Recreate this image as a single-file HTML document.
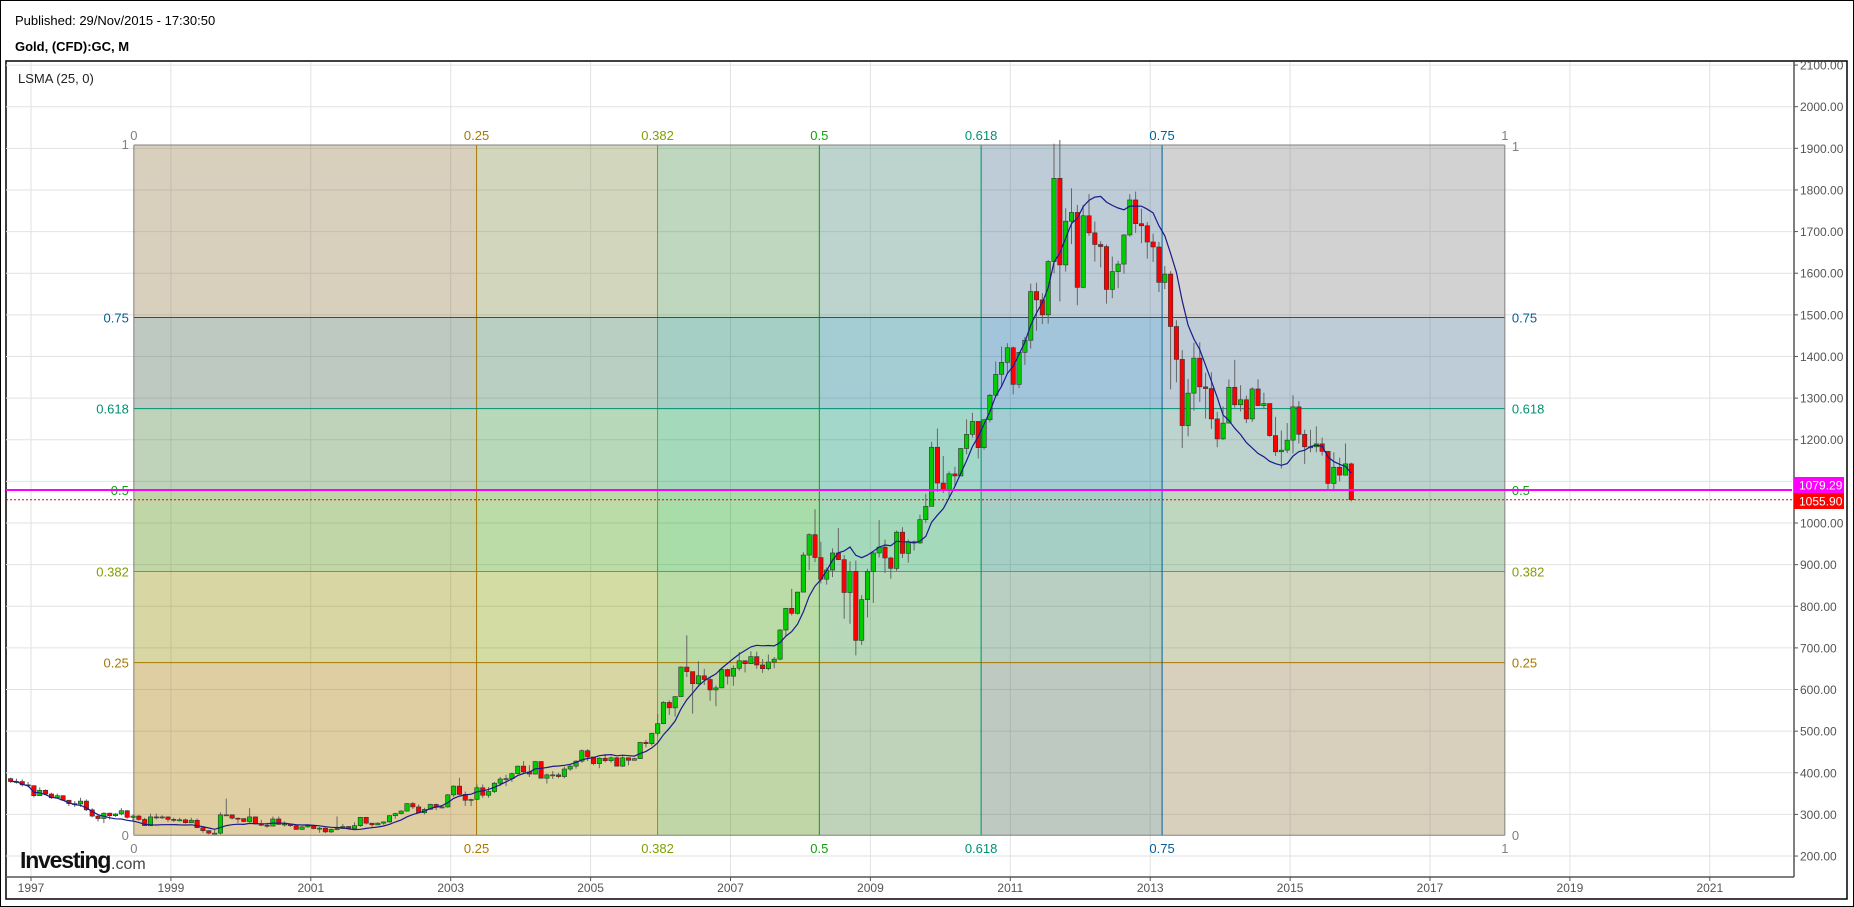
<!DOCTYPE html>
<html><head><meta charset="utf-8">
<style>
html,body{margin:0;padding:0;background:#fff;}
svg{display:block;font-family:"Liberation Sans",sans-serif;}
</style></head>
<body>
<svg id="chart" width="1854" height="907" viewBox="0 0 1854 907" xmlns="http://www.w3.org/2000/svg">
<rect x="0.5" y="0.5" width="1853" height="906" fill="#fff" stroke="#000"/>
<text x="15" y="25" font-size="13" fill="#000">Published: 29/Nov/2015 - 17:30:50</text>
<text x="15" y="51" font-size="13" font-weight="bold" fill="#000">Gold, (CFD):GC, M</text>
<rect x="6" y="61" width="1841" height="838" fill="none" stroke="#000" stroke-width="1.5"/>
<g id="grid"></g>
<g id="fib"></g>
<g id="candles"></g>
<g id="lsma"></g>
<g id="axes"></g>
<text x="18" y="83" font-size="13" fill="#222">LSMA (25, 0)</text>
<g>
<text x="20" y="868" font-size="23" font-weight="bold" fill="#111" letter-spacing="-1.2">Investing</text>
<text x="111" y="869" font-size="16" fill="#444">.com</text>
</g>
</svg>
<script>
const startYear = 1996, startMonth = 8; // Sep 1996
const closes = [379,379,371,369,
345,358,349,340,345,334,326,325,332,311,296,290,
303,297,301,309,293,296,288,273,294,292,294,288,
287,287,280,286,268,261,255,255,299,299,291,290,
283,294,277,274,272,289,276,277,273,264,270,273,
266,267,258,264,266,271,266,273,293,279,275,279,
282,297,302,308,326,318,304,312,324,317,318,347,
368,348,334,336,364,346,355,375,385,386,398,416,
402,397,427,387,395,395,391,409,416,428,453,438,
422,435,429,436,416,436,430,434,473,470,495,518,
569,556,583,654,643,614,633,624,599,604,648,632,
651,669,662,679,659,650,666,673,743,795,783,834,
923,972,917,865,887,928,912,833,884,718,816,884,
928,942,916,891,978,927,955,952,1008,1040,1182,1096,
1081,1118,1113,1179,1213,1244,1181,1248,1307,1357,1386,1421,
1333,1410,1439,1556,1536,1500,1628,1828,1620,1725,1746,1566,
1738,1697,1669,1664,1561,1604,1622,1692,1776,1719,1714,1675,
1663,1578,1598,1472,1393,1234,1312,1396,1327,1323,1250,1202,
1240,1326,1284,1296,1250,1322,1282,1287,1210,1171,1175,1199,
1279,1213,1183,1183,1190,1172,1095,1134,1115,1142,1056];
const highs = [388,386,384,378,
370,365,360,352,350,346,335,332,340,336,315,301,
305,304,303,315,310,300,299,292,302,302,298,295,
292,292,290,292,290,272,262,263,305,338,300,292,
290,315,295,287,280,295,295,283,278,275,272,275,
275,270,269,266,295,277,272,281,294,294,279,281,
283,298,304,310,327,330,324,316,326,326,322,349,
370,388,355,338,372,372,366,378,390,395,400,417,
428,418,428,427,398,404,400,415,421,430,456,457,
428,437,445,439,438,443,437,436,474,479,496,541,
572,574,584,655,730,632,668,650,630,610,652,650,
658,690,670,692,691,673,684,678,745,796,842,835,
930,975,1033,955,893,939,988,923,908,910,827,890,
930,1007,960,919,982,990,960,958,1020,1070,1195,1227,
1161,1124,1135,1180,1249,1265,1242,1250,1310,1388,1424,1432,
1424,1410,1447,1575,1577,1552,1632,1911,1920,1756,1804,1764,
1764,1790,1724,1677,1669,1640,1630,1693,1790,1796,1755,1723,
1695,1675,1617,1605,1487,1415,1346,1433,1434,1361,1362,1267,
1280,1345,1392,1331,1306,1326,1345,1313,1287,1255,1222,1240,
1307,1293,1224,1224,1232,1205,1170,1170,1157,1191,1145];
const lows = [376,374,367,365,
341,345,346,337,338,333,320,318,318,308,293,283,
279,288,294,298,290,285,285,272,272,288,289,282,
282,283,278,280,268,256,252,253,252,296,288,280,
281,281,276,272,268,272,275,271,270,263,263,268,
264,256,255,255,262,265,265,264,270,276,270,274,
275,280,290,300,307,313,303,300,312,310,314,316,
342,346,320,320,336,340,340,351,368,368,378,396,
398,390,396,386,374,385,387,387,405,410,424,428,
418,411,425,424,415,414,418,430,434,461,465,489,
517,539,535,583,630,542,611,611,573,560,612,612,
609,645,641,663,650,640,646,651,670,728,778,780,
836,887,906,855,852,870,911,770,758,682,707,773,
808,917,880,866,885,916,905,934,950,1000,1043,1075,
1072,1059,1087,1114,1165,1205,1155,1176,1242,1315,1330,1358,
1309,1324,1380,1419,1462,1478,1479,1600,1532,1604,1670,1523,
1564,1690,1628,1614,1527,1540,1564,1599,1688,1697,1672,1635,
1627,1555,1562,1321,1338,1180,1208,1270,1291,1251,1226,1182,
1200,1241,1277,1268,1240,1243,1281,1274,1207,1161,1131,1168,
1167,1191,1142,1170,1170,1162,1077,1078,1100,1114,1052];
const firstOpen = 386;
const priceTicks = [200,300,400,500,600,700,800,900,1000,1100,1200,1300,1400,1500,1600,1700,1800,1900,2000,2100];
const yearTicks = [1997,1999,2001,2003,2005,2007,2009,2011,2013,2015,2017,2019,2021];
const fibLevels = [0,0.25,0.382,0.5,0.618,0.75,1];
const fibLabels = ["0","0.25","0.382","0.5","0.618","0.75","1"];
const fibColors = ["#808080","#a87800","#80a000","#10a010","#009070","#005f9a","#808080"];
const fibStart = 1998.47, fibEnd = 2018.07, fibLow = 250, fibHigh = 1908;
const markerPrice = 1079.29, lastPrice = 1055.90;

const NS = "http://www.w3.org/2000/svg";
const yP = p => 523 - (p - 1000) * 0.4163;
const xT = t => 31 + (t - 1997) * 69.95;
const xM = i => xT(startYear + (startMonth + i + 0.5) / 12);
function mk(tag, attrs, parent, text){const e=document.createElementNS(NS,tag);for(const k in attrs)e.setAttribute(k,attrs[k]);if(text!==undefined)e.textContent=text;parent.appendChild(e);return e;}
const L=6,R=1792,T=62,B=877;
const grid=document.getElementById('grid');
priceTicks.forEach(p=>{const l=mk('line',{x1:L,x2:R,y1:yP(p),y2:yP(p),stroke:'#e2e2e2'},grid);

});
yearTicks.forEach(y=>{const l=mk('line',{x1:xT(y),x2:xT(y),y1:T,y2:B,stroke:'#e2e2e2'},grid);

});
const fib=document.getElementById('fib');
const fx=f=>xT(fibStart)+(xT(fibEnd)-xT(fibStart))*f;
const fy=f=>yP(fibLow)+(yP(fibHigh)-yP(fibLow))*f;
const X0=fx(0),X1=fx(1),Y0=fy(0),Y1=fy(1);
for(let i=1;i<fibLevels.length;i++){
 const r=mk('rect',{x:fx(fibLevels[i-1]),y:Y1,width:fx(fibLevels[i])-fx(fibLevels[i-1]),height:Y0-Y1,fill:fibColors[i],'fill-opacity':0.2},fib);
 
 
 const h=mk('rect',{x:X0,y:fy(fibLevels[i]),width:X1-X0,height:fy(fibLevels[i-1])-fy(fibLevels[i]),fill:fibColors[i],'fill-opacity':0.2},fib);
 
 
}
fibLevels.forEach((f,i)=>{
 const c=fibColors[i];
 const v=mk('line',{x1:fx(f),x2:fx(f),y1:Y1,y2:Y0,stroke:c,'stroke-width':1},fib);
 
 
 const h=mk('line',{x1:X0,x2:X1,y1:fy(f),y2:fy(f),stroke:c,'stroke-width':1},fib);
 
 
 const t1=mk('text',{x:fx(f),y:140,'font-size':13,fill:c,'text-anchor':'middle'},fib,fibLabels[i]);
 
 
 const t2=mk('text',{x:fx(f),y:853,'font-size':13,fill:c,'text-anchor':'middle'},fib,fibLabels[i]);
 
 
 const t3=mk('text',{x:X0-5,y:fy(f)+(f===1?4:5),'font-size':13,fill:c,'text-anchor':'end'},fib,fibLabels[i]);
 
 
 const t4=mk('text',{x:X1+7,y:fy(f)+(f===1?6:5),'font-size':13,fill:c},fib,fibLabels[i]);
 
 
});
const cg=document.getElementById('candles');
const w=4.4;
closes.forEach((c,i)=>{
 const o=i===0?firstOpen:closes[i-1];
 const x=xM(i);
 const wk=mk('line',{x1:x,x2:x,y1:yP(highs[i]),y2:yP(lows[i]),stroke:'#666','stroke-width':1},cg);
 
 
 const top=yP(Math.max(o,c)),bot=yP(Math.min(o,c));
 const b=mk('rect',{x:x-w/2,y:top,width:w,height:Math.max(1,bot-top),fill:c>=o?'#00cc00':'#ff0000',stroke:'#333','stroke-width':0.6},cg);
 
 
});
const pts=[];
closes.forEach((c,i)=>{
 const n=Math.min(25,i+1);let sx=0,sy=0,sxy=0,sxx=0;
 for(let k=0;k<n;k++){const v=closes[i-n+1+k];sx+=k;sy+=v;sxy+=k*v;sxx+=k*k;}
 const d=n*sxx-sx*sx;const m=d?(n*sxy-sx*sy)/d:0;const b=(sy-m*sx)/n;
 pts.push(xM(i).toFixed(1)+','+yP(b+m*(n-1)).toFixed(1));
});
const pl=mk('polyline',{points:pts.join(' '),fill:'none',stroke:'#1a1a8c','stroke-width':1.2},document.getElementById('lsma'));


const ax=document.getElementById('axes');
const ml=mk('line',{x1:L,x2:R,y1:yP(markerPrice),y2:yP(markerPrice),stroke:'#ff00ff','stroke-width':2},ax);


const dl=mk('line',{x1:L,x2:R,y1:yP(lastPrice),y2:yP(lastPrice),stroke:'#e00','stroke-width':1,'stroke-dasharray':'2,2'},ax);


mk('line',{x1:R+2,x2:R+2,y1:T,y2:B,stroke:'#555','stroke-width':1.5},ax);
mk('line',{x1:L,x2:R+2,y1:B,y2:B,stroke:'#555','stroke-width':1.5},ax);
priceTicks.forEach(p=>{
 mk('line',{x1:R+2,x2:R+6,y1:yP(p),y2:yP(p),stroke:'#555'},ax);
 const t=mk('text',{x:R+8,y:yP(p)+4.5,'font-size':12,fill:'#555'},ax,p.toFixed(2));
 
 
});
yearTicks.forEach(y=>{
 mk('line',{x1:xT(y),x2:xT(y),y1:B,y2:B+4,stroke:'#555'},ax);
 const t=mk('text',{x:xT(y),y:892,'font-size':12,fill:'#555','text-anchor':'middle'},ax,String(y));
 
 
});
const my=yP(markerPrice)-5;
const mb=mk('rect',{x:R+2,y:my-8,width:50,height:16,fill:'#ff00ff'},ax);


mk('text',{x:R+7,y:my+4.5,'font-size':12,fill:'#fff'},ax,markerPrice.toFixed(2));
const ly=my+16;
const lb=mk('rect',{x:R+2,y:ly-8,width:50,height:16,fill:'#ff0000'},ax);


mk('text',{x:R+7,y:ly+4.5,'font-size':12,fill:'#fff'},ax,lastPrice.toFixed(2));
</script>
</body></html>
